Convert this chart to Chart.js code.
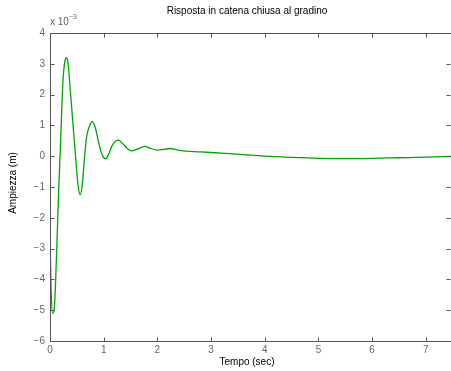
<!DOCTYPE html>
<html><head><meta charset="utf-8">
<script src="https://cdn.jsdelivr.net/npm/chart.js@4"></script>
<style>html,body{margin:0;padding:0;background:#fff;}#w{width:451px;height:371px;}</style>
</head><body><div id="w"><canvas id="c" width="451" height="371"></canvas></div>
<script>
// Time axis (sec)
const tempo = [0,0.02,0.05,0.08,0.12,0.16,0.2,0.24,0.28,0.31,0.34,0.38,0.43,0.48,0.52,0.56,0.6,0.64,0.68,0.74,0.79,0.84,0.9,0.95,1.0,1.04,1.09,1.16,1.27,1.36,1.44,1.52,1.62,1.76,1.88,2.0,2.12,2.24,2.4,2.8,3.2,3.6,4.0,4.5,5.0,5.5,6.0,6.5,7.0,7.47];
// Amplitude (m), in units of 1e-3
const ampiezza_e3 = [-2.6,-4.3,-5.1,-4.95,-3.3,-1.2,0.6,2.4,3.1,3.2,2.95,2.1,1.0,-0.1,-0.9,-1.25,-0.95,-0.1,0.6,1.0,1.12,0.95,0.5,0.15,-0.05,-0.08,0.05,0.35,0.52,0.4,0.25,0.17,0.22,0.32,0.25,0.2,0.22,0.25,0.19,0.14,0.1,0.05,0.0,-0.04,-0.07,-0.08,-0.07,-0.05,-0.03,-0.01];
const xTicks = [0,1,2,3,4,5,6,7];
const yTicks = [-6,-5,-4,-3,-2,-1,0,1,2,3,4];
const titolo = "Risposta in catena chiusa al gradino";
const xLabel = "Tempo (sec)";
const yLabel = "Ampiezza (m)";

const FONT = "Liberation Sans, Arial, sans-serif";
const fmt = v => (v < 0 ? "\u2212" + Math.abs(v) : String(v));

const frame = {
  id: 'frame',
  afterDraw(chart) {
    const {ctx, chartArea: a, scales: {x, y}} = chart;
    ctx.save();
    ctx.strokeStyle = '#555';
    ctx.lineWidth = 1;
    const L = Math.round(a.left) + 0.5, T = Math.round(a.top) + 0.5, B = Math.round(a.bottom) + 0.5, R = Math.round(a.right) + 0.5;
    ctx.beginPath();
    ctx.moveTo(L, T); ctx.lineTo(R, T);
    ctx.moveTo(L, T); ctx.lineTo(L, B); ctx.lineTo(R, B);
    ctx.lineTo(R, T);
    const tl = 4;
    xTicks.forEach(v => {
      const px = Math.round(x.getPixelForValue(v)) + 0.5;
      ctx.moveTo(px, B); ctx.lineTo(px, B - tl);
      ctx.moveTo(px, T); ctx.lineTo(px, T + tl);
    });
    yTicks.forEach(v => {
      const py = Math.round(y.getPixelForValue(v)) + 0.5;
      ctx.moveTo(L, py); ctx.lineTo(L + tl, py);
      ctx.moveTo(R - 1, py); ctx.lineTo(R - 1 - tl, py);
    });
    ctx.stroke();

    ctx.fillStyle = '#000';
    ctx.font = "10px " + FONT;
    ctx.textAlign = 'center';
    ctx.textBaseline = 'middle';
    ctx.fillText(titolo, 247, 11);
    ctx.fillText(xLabel, 247, 362);
    ctx.save();
    ctx.translate(13, 183);
    ctx.rotate(-Math.PI / 2);
    ctx.fillText(yLabel, 0, 0);
    ctx.restore();

    ctx.fillStyle = '#666';
    ctx.textAlign = 'left';
    ctx.textBaseline = 'alphabetic';
    ctx.font = "10px " + FONT;
    ctx.fillText("x 10", 50, 25);
    ctx.font = "7px " + FONT;
    ctx.fillText("\u22123", 69, 19);
    ctx.restore();
  }
};

new Chart(document.getElementById('c'), {
  type: 'line',
  data: {
    datasets: [{
      data: tempo.map((t, i) => ({x: t, y: ampiezza_e3[i]})),
      borderColor: 'rgb(0,165,0)',
      borderWidth: 1.3,
      pointRadius: 0,
      fill: false,
      cubicInterpolationMode: 'monotone'
    }]
  },
  options: {
    responsive: false,
    animation: false,
    devicePixelRatio: 1,
    layout: {padding: {top: 33, right: 0, left: 0, bottom: 0}},
    plugins: {legend: {display: false}, tooltip: {enabled: false}, title: {display: false}},
    scales: {
      x: {
        type: 'linear', min: 0, max: 7.47,
        afterFit(s) { s.height = 30; },
        afterBuildTicks(s) { s.ticks = xTicks.map(v => ({value: v})); },
        grid: {display: false, drawTicks: false, tickLength: 0}, border: {display: false},
        ticks: {color: '#666', font: {size: 10, family: FONT}, padding: 3, maxRotation: 0, callback: v => fmt(v)}
      },
      y: {
        type: 'linear', min: -6, max: 4,
        afterFit(s) { s.width = 50; },
        afterBuildTicks(s) { s.ticks = yTicks.map(v => ({value: v})); },
        grid: {display: false, drawTicks: false, tickLength: 0}, border: {display: false},
        ticks: {color: '#666', font: {size: 10, family: FONT}, padding: 5, callback: v => fmt(v)}
      }
    }
  },
  plugins: [frame]
});
</script>
</body></html>
